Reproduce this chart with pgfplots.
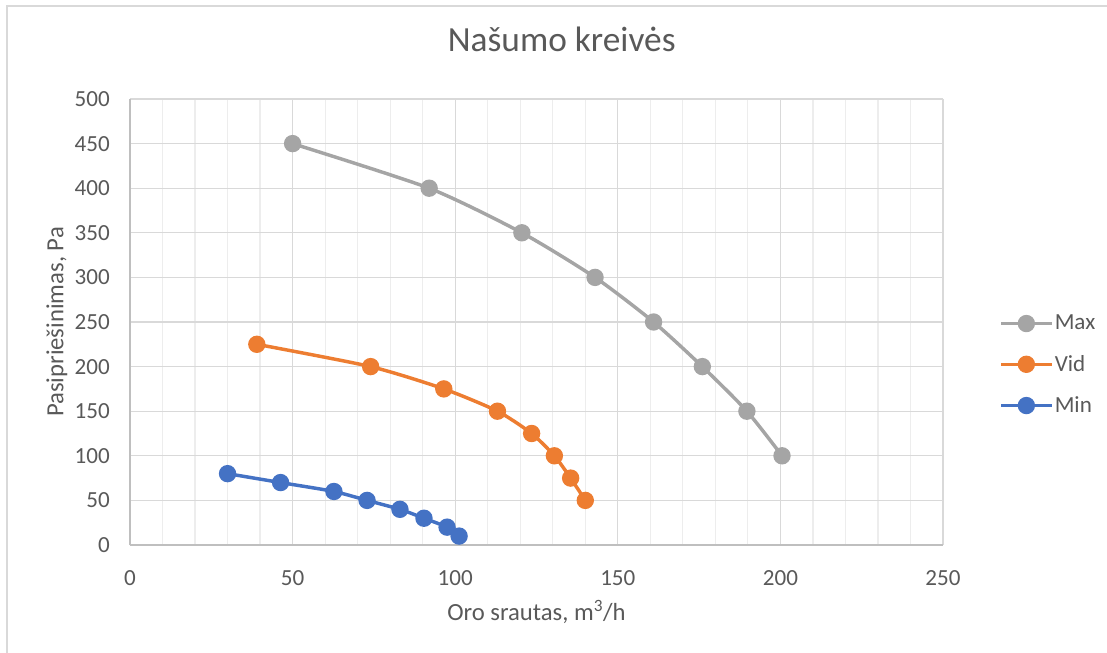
\documentclass[border=0pt]{standalone}
\usepackage{fontspec}
\setmainfont{Carlito}
\usepackage{pgfplots}
\pgfplotsset{compat=1.18}
\definecolor{maxc}{HTML}{A5A5A5}
\definecolor{vidc}{HTML}{ED7D31}
\definecolor{minc}{HTML}{4472C4}
\definecolor{txt}{HTML}{595959}
\definecolor{majg}{HTML}{D9D9D9}
\definecolor{ming}{HTML}{EDEDED}
\definecolor{axc}{HTML}{BFBFBF}

\begin{document}
\begin{tikzpicture}
\useasboundingbox (-97.5pt,-81pt) rectangle (732.75pt,408.75pt);
\draw[majg, line width=1pt] (-92.25pt,-120pt) -- (-92.25pt,404.25pt) -- (760pt,404.25pt);
\begin{axis}[
  at={(0,0)}, anchor=south west,
  scale only axis, width=609.75pt, height=334.5pt,
  xmin=0, xmax=250, ymin=0, ymax=500,
  xtick={0,50,...,250}, ytick={0,50,...,500},
  minor x tick num=4,
  xmajorgrids, ymajorgrids, xminorgrids,
  major grid style={majg, line width=0.9pt},
  minor grid style={ming, line width=0.9pt},
  axis x line=bottom, axis y line=left,
  axis line style={-, axc, line width=1pt},
  major tick length=0pt, minor tick length=0pt,
  /pgf/number format/assume math mode=true,
  tick label style={font=\fontsize{17.3}{20}\selectfont, text=txt, inner sep=0pt},
  xticklabel style={anchor=north, yshift=-19pt},
  yticklabel style={anchor=east, xshift=-15pt},
  xlabel={Oro srautas, m\textsuperscript{3}/h},
  ylabel={Pasipriešinimas, Pa},
  label style={font=\fontsize{18.5}{22}\selectfont, text=txt},
  xlabel style={at={(axis description cs:0.5,-0.150)}, anchor=center},
  ylabel style={at={(axis description cs:-0.0898,0.5)}, anchor=center, rotate=0},
  title={Našumo kreivės},
  title style={font=\fontsize{26.5}{30}\selectfont, text=txt, at={(axis description cs:0.531,1.1166)}, anchor=center},
  every axis plot/.append style={line width=2.6pt, mark=*, mark size=5.2pt, smooth, tension=0.4},
  legend style={at={(rel axis cs:1.064,0.404)}, anchor=west, draw=none, fill=none,
    font=\fontsize{17.3}{20}\selectfont, text=txt, row sep=15.5pt,
    nodes={inner sep=1pt}},
  legend cell align=left,
  legend image code/.code={
    \draw[mark repeat=2, mark phase=2, #1] plot coordinates {(0pt,0pt) (19pt,0pt) (38pt,0pt)};
  },
]
\addplot[maxc, mark options={fill=maxc, draw=maxc}] coordinates {
(50,450) (92,400) (120.5,350) (143,300) (161,250) (176,200) (189.7,150) (200.5,100)
};
\addlegendentry{Max}
\addplot[vidc, mark options={fill=vidc, draw=vidc}] coordinates {
(39,225) (74,200) (96.5,175) (113,150) (123.5,125) (130.5,100) (135.5,75) (140,50)
};
\addlegendentry{Vid}
\addplot[minc, mark options={fill=minc, draw=minc}] coordinates {
(30,80) (46.3,70) (62.7,60) (72.9,50) (83,40) (90.4,30) (97.5,20) (101.2,10)
};
\addlegendentry{Min}
\end{axis}
\end{tikzpicture}
\end{document}
